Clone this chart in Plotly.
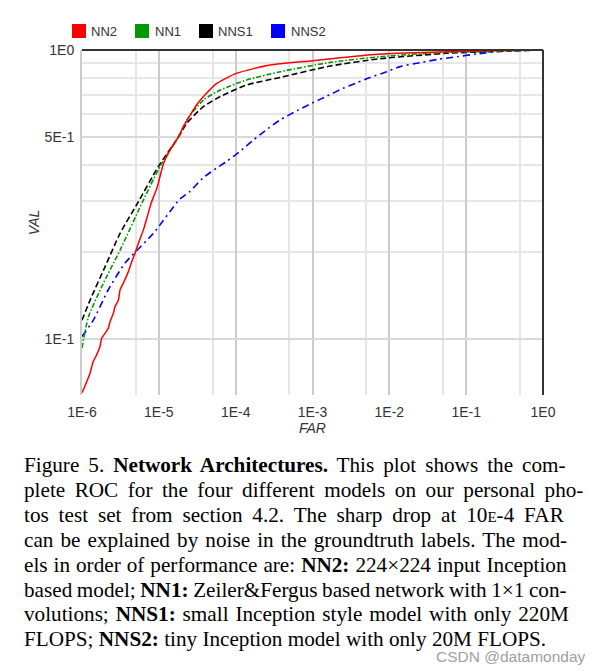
import plotly.graph_objects as go

# ---------------- data ----------------
series_names = ["NN2", "NN1", "NNS1", "NNS2"]
series_colors = ["#ff0000", "#009900", "#000000", "#0000ff"]

nn2_far = [1.0e-6, 1.151e-6, 1.27e-6, 1.40e-6, 1.55e-6, 1.71e-6, 1.80e-6, 2.0e-6, 2.20e-6,
           2.32e-6, 2.56e-6, 2.69e-6, 2.97e-6, 3.13e-6, 3.45e-6, 4.01e-6, 4.44e-6, 4.90e-6,
           5.41e-6, 6.28e-6, 6.95e-6, 7.94e-6, 9.55e-6, 1.15e-5, 1.40e-5, 1.8e-5, 2.09e-5,
           2.42e-5, 3.09e-5, 4.17e-5, 5.62e-5, 1.02e-4, 2.82e-4, 1.0e-3, 4.57e-3, 1.26e-2,
           1.0e-1, 1.0]
nn2_val = [0.065, 0.0711, 0.0761, 0.0835, 0.0881, 0.094, 0.1005, 0.1047, 0.109,
           0.1148, 0.1227, 0.1294, 0.136, 0.148, 0.156, 0.171, 0.185, 0.198,
           0.214, 0.238, 0.261, 0.295, 0.336, 0.405, 0.451, 0.50, 0.543,
           0.580, 0.645, 0.708, 0.765, 0.830, 0.887, 0.918, 0.958, 0.974,
           0.990, 1.0]

nn1_far = [1.0e-6, 1.21e-6, 1.9e-6, 3.13e-6, 6.31e-6, 1.035e-5, 1.8e-5, 2.31e-5, 3.80e-5,
           6.31e-5, 1.40e-4, 3.80e-4, 1.70e-3, 7.59e-3, 5.62e-2, 0.151, 0.398, 1.0]
nn1_val = [0.093, 0.119, 0.156, 0.203, 0.303, 0.395, 0.50, 0.573, 0.671,
           0.727, 0.788, 0.841, 0.906, 0.948, 0.982, 0.987, 0.995, 1.0]

nns1_far = [1.0e-6, 1.27e-6, 2.0e-6, 3.13e-6, 5.13e-6, 9.86e-6, 1.8e-5, 2.31e-5, 3.80e-5,
            6.31e-5, 1.40e-4, 3.80e-4, 1.70e-3, 7.59e-3, 5.62e-2, 0.2, 0.5, 1.0]
nns1_val = [0.116, 0.136, 0.178, 0.232, 0.291, 0.395, 0.50, 0.557, 0.637,
            0.690, 0.757, 0.804, 0.880, 0.933, 0.974, 0.987, 0.995, 1.0]

nns2_far = [1.0e-6, 1.40e-6, 2.20e-6, 3.63e-6, 8.51e-6, 1.86e-5, 2.51e-5, 3.72e-5, 5.62e-5,
            7.59e-5, 1.20e-4, 1.70e-4, 2.67e-4, 3.80e-4, 6.31e-4, 9.77e-4, 1.55e-3, 2.51e-3,
            3.80e-3, 5.62e-3, 9.33e-3, 1.38e-2, 2.51e-2, 4.37e-2, 7.59e-2, 0.138, 0.251,
            0.5, 1.0]
nns2_val = [0.102, 0.116, 0.148, 0.183, 0.232, 0.304, 0.323, 0.360, 0.390,
            0.411, 0.451, 0.488, 0.536, 0.573, 0.617, 0.654, 0.693, 0.737,
            0.771, 0.804, 0.841, 0.876, 0.904, 0.929, 0.948, 0.969, 0.987,
            0.996, 1.0]

x_tick_vals = [1e-6, 1e-5, 1e-4, 1e-3, 1e-2, 1e-1, 1e0]
x_tick_text = ["1E-6", "1E-5", "1E-4", "1E-3", "1E-2", "1E-1", "1E0"]
x_minor_vals = [5e-6, 5e-5, 5e-4, 5e-3, 5e-2, 5e-1]
y_tick_vals = [0.1, 0.5, 1.0]
y_tick_text = ["1E-1", "5E-1", "1E0"]
y_minor_vals = [0.2, 0.3, 0.4, 0.6, 0.7, 0.8, 0.9]

caption_lines = [
    "Figure 5. <b>Network Architectures.</b> This plot shows the com-",
    "plete ROC for the four different models on our personal pho-",
    "tos test set from section 4.2. The sharp drop at 10<span style='font-size:15px'>E</span>-4 FAR",
    "can be explained by noise in the groundtruth labels. The mod-",
    "els in order of performance are: <b>NN2:</b> 224×224 input Inception",
    "based model; <b>NN1:</b> Zeiler&amp;Fergus based network with 1×1 con-",
    "volutions; <b>NNS1:</b> small Inception style model with only 220M",
    "FLOPS; <b>NNS2:</b> tiny Inception model with only 20M FLOPS.",
]
caption_word_spacing = [3.7, 4.2, 4.6, 1.8, 0.7, -0.7, 1.6, 0]

# ---------------- layout geometry (screen pixels; page body has an 8px margin) ----------------
W, H = 593, 671
OFF = 8
ML, MR, MT, MB = 74, 58, 42, 284
PW, PH = W - ML - MR, H - MT - MB

def px_x(px):
    return (px - OFF - ML) / PW

def px_y(py):
    return (H - MB - (py - OFF)) / PH

sans = "Liberation Sans, Arial, sans-serif"
serif = "Liberation Serif, Times New Roman, serif"

styles = {
    "NN2": dict(color=series_colors[0], dash="solid", width=1.5),
    "NN1": dict(color=series_colors[1], dash="5px,2px,1.5px,2px", width=1.6),
    "NNS1": dict(color=series_colors[2], dash="6px,3px", width=1.6),
    "NNS2": dict(color=series_colors[3], dash="7px,4px,2px,4px", width=1.6),
}
data = {
    "NN2": (nn2_far, nn2_val),
    "NN1": (nn1_far, nn1_val),
    "NNS1": (nns1_far, nns1_val),
    "NNS2": (nns2_far, nns2_val),
}

fig = go.Figure()
for name in ["NNS2", "NNS1", "NN1", "NN2"]:
    xs, ys = data[name]
    ln = dict(styles[name])
    ln.update(shape="spline", smoothing=0.6)
    fig.add_trace(go.Scatter(x=xs, y=ys, mode="lines", name=name, showlegend=False,
                             line=ln, hoverinfo="x+y+name"))

fig.update_layout(
    width=W, height=H,
    margin=dict(l=ML, r=MR, t=MT, b=MB, autoexpand=False),
    paper_bgcolor="white", plot_bgcolor="white",
    font=dict(family=sans, size=13, color="#333333"),
    showlegend=False,
    xaxis=dict(type="log", range=[-6, 0], tickvals=x_tick_vals, ticktext=x_tick_text,
               automargin=False,
               showgrid=True, gridcolor="#cccccc", gridwidth=1.5, zeroline=False,
               showline=False, ticks="", ticklabelstandoff=7,
               tickfont=dict(family=sans, size=14, color="#333333"),
               minor=dict(tickvals=x_minor_vals, showgrid=True, gridcolor="#e6e6e6", gridwidth=1.5),
               title=dict(text="<i>FAR</i>", font=dict(family=sans, size=14, color="#333333"),
                          standoff=2)),
    yaxis=dict(type="log", range=[-1.194, 0], tickvals=y_tick_vals, ticktext=y_tick_text,
               automargin=False,
               showgrid=True, gridcolor="#d9d9d9", gridwidth=1.5, zeroline=False,
               showline=True, linecolor="#cccccc", linewidth=2,
               ticks="", ticklabelstandoff=3,
               tickfont=dict(family=sans, size=14, color="#333333"),
               minor=dict(tickvals=y_minor_vals, showgrid=True, gridcolor="#e6e6e6", gridwidth=1.5),
               title=dict(text="<i>VAL</i>", font=dict(family=sans, size=14, color="#333333"),
                          standoff=2)),
)

# top and right frame lines
fig.add_shape(type="line", xref="paper", yref="paper", x0=0, x1=1, y0=1, y1=1,
              line=dict(color="#333333", width=2))
fig.add_shape(type="line", xref="paper", yref="paper", x0=1, x1=1, y0=0, y1=1,
              line=dict(color="#333333", width=2))

# legend (colored squares + labels across the top)
legend_sq_left = [72, 135, 199, 271]
legend_txt_left = [90, 154, 217, 290]
for name, col, sxp, txp in zip(series_names, series_colors, legend_sq_left, legend_txt_left):
    fig.add_shape(type="rect", xref="paper", yref="paper",
                  x0=px_x(sxp), x1=px_x(sxp + 14), y0=px_y(38), y1=px_y(24),
                  fillcolor=col, line=dict(width=0))
    fig.add_annotation(text=name, xref="paper", yref="paper", x=px_x(txp - 1), y=px_y(31),
                       xanchor="left", yanchor="middle", showarrow=False,
                       font=dict(family=sans, size=13, color="#333333"))

# caption
line_y0 = 465
line_step = 24.9
for i, txt in enumerate(caption_lines):
    ws = caption_word_spacing[i]
    t = f"<span style='word-spacing:{ws}px'>{txt}</span>" if ws else txt
    fig.add_annotation(text=t, xref="paper", yref="paper", x=px_x(22), y=px_y(line_y0 + i * line_step),
                       xanchor="left", yanchor="middle", showarrow=False, align="left",
                       font=dict(family=serif, size=21.2, color="#000000"))

# watermark
fig.add_annotation(text="CSDN @datamonday", xref="paper", yref="paper", x=px_x(588), y=px_y(656),
                   xanchor="right", yanchor="middle", showarrow=False,
                   font=dict(family=sans, size=15.5, color="#a0a0a0"))

fig.write_html("out.html")
